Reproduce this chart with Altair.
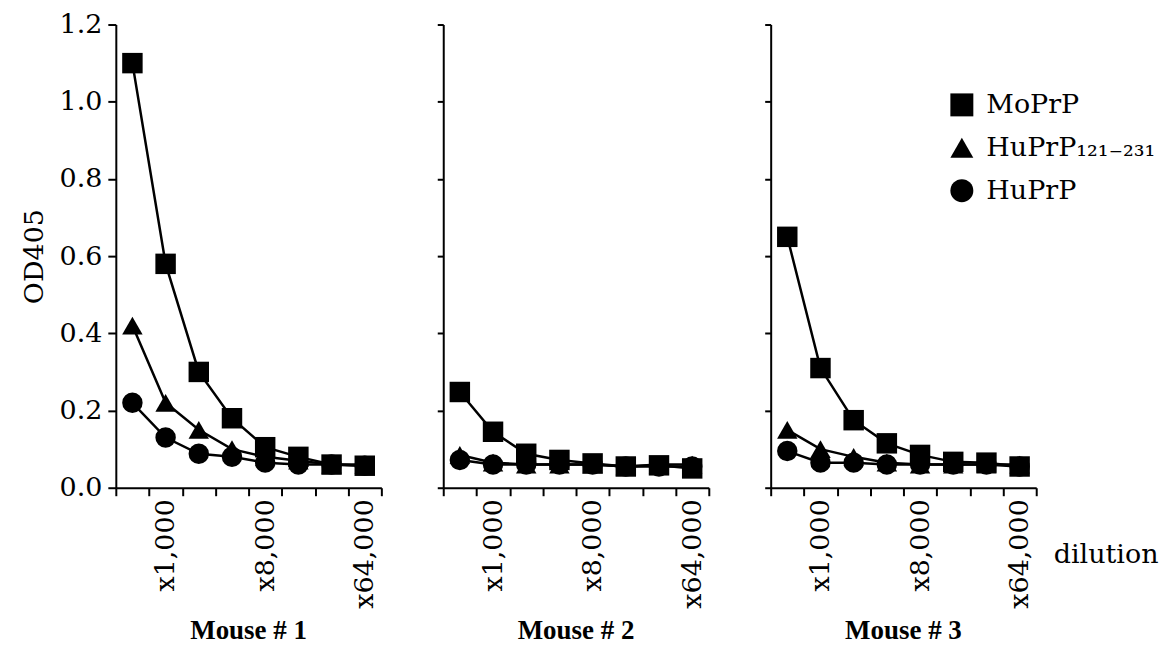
import altair as alt
import pandas as pd

dilutions = ["x500", "x1,000", "x2,000", "x4,000", "x8,000", "x16,000", "x32,000", "x64,000"]
shown_labels = ["x1,000", "x8,000", "x64,000"]
antigens = ["MoPrP", "HuPrP₁₂₁₋₂₃₁", "HuPrP"]
shapes = ["square", "triangle-up", "circle"]
mice = ["Mouse # 1", "Mouse # 2", "Mouse # 3"]

m1_mo = [1.10, 0.58, 0.30, 0.18, 0.105, 0.08, 0.06, 0.057]
m1_hu121 = [0.42, 0.22, 0.15, 0.10, 0.08, 0.07, 0.06, 0.06]
m1_hu = [0.22, 0.13, 0.088, 0.08, 0.065, 0.06, 0.06, 0.057]

m2_mo = [0.248, 0.145, 0.088, 0.072, 0.063, 0.055, 0.058, 0.05]
m2_hu121 = [0.085, 0.065, 0.06, 0.06, 0.06, 0.055, 0.06, 0.06]
m2_hu = [0.072, 0.06, 0.06, 0.06, 0.06, 0.055, 0.055, 0.055]

m3_mo = [0.65, 0.31, 0.175, 0.115, 0.085, 0.067, 0.065, 0.055]
m3_hu121 = [0.15, 0.10, 0.08, 0.065, 0.06, 0.06, 0.06, 0.06]
m3_hu = [0.095, 0.065, 0.065, 0.06, 0.06, 0.06, 0.06, 0.055]

panel_series = [
    [m1_mo, m1_hu121, m1_hu],
    [m2_mo, m2_hu121, m2_hu],
    [m3_mo, m3_hu121, m3_hu],
]

SERIF = "DejaVu Serif"
FS = 27


def make_df(series_list):
    rows = []
    for name, vals in zip(antigens, series_list):
        for d, v in zip(dilutions, vals):
            rows.append({"dilution": d, "od": v, "antigen": name})
    return pd.DataFrame(rows)


label_expr = "indexof(" + str(shown_labels) + ", datum.value) >= 0 ? datum.value : ''"


def panel(i):
    df = make_df(panel_series[i])
    first = i == 0
    last = i == 2

    x_axis_kwargs = dict(
        tickBand="extent", labelAngle=270, labelAlign="right", labelBaseline="middle",
        labelExpr=label_expr, labelFont=SERIF, labelFontSize=27, labelColor="black",
        labelPadding=3, labelOverlap=False, domainColor="black", domainWidth=2,
        tickColor="black", tickWidth=2, tickSize=8, grid=False,
    )
    if last:
        x_axis = alt.Axis(title="dilution", titleX=283, titleY=67, titleAngle=0,
                          titleAlign="left", titleBaseline="middle", titleFont=SERIF,
                          titleFontSize=FS, titleFontWeight="normal", titleColor="black",
                          **x_axis_kwargs)
    else:
        x_axis = alt.Axis(title=None, **x_axis_kwargs)

    y_common = dict(values=[0, 0.2, 0.4, 0.6, 0.8, 1.0, 1.2], domainColor="black",
                    domainWidth=2, tickColor="black", tickWidth=2, grid=False)
    if first:
        y_axis = alt.Axis(format=".1f", title="OD405", titleFont=SERIF, titleFontSize=FS,
                          titleFontWeight="normal", titleColor="black", titlePadding=11,
                          labelFont=SERIF, labelFontSize=FS, labelColor="black",
                          labelPadding=6, tickSize=8, **y_common)
    else:
        y_axis = alt.Axis(labels=False, title=None, tickSize=6, **y_common)

    x = alt.X("dilution:O", sort=dilutions,
              scale=alt.Scale(type="band", paddingInner=0, paddingOuter=0), axis=x_axis)
    y = alt.Y("od:Q", scale=alt.Scale(domain=[0, 1.2], nice=False, zero=True), axis=y_axis)

    if last:
        legend = alt.Legend(title=None, orient="none", legendX=178, legendY=67,
                            labelFont=SERIF, labelFontSize=FS, labelColor="black",
                            labelLimit=400, symbolSize=529, symbolFillColor="black",
                            symbolStrokeColor="black", symbolStrokeWidth=0, rowPadding=15,
                            labelOffset=11)
    else:
        legend = None

    base = alt.Chart(df)
    line = base.mark_line(color="black", strokeWidth=2.5).encode(
        x=x, y=y, detail="antigen:N"
    )
    pts = base.mark_point(filled=True, color="black", opacity=1, size=420).encode(
        x=x, y=y,
        shape=alt.Shape("antigen:N",
                        scale=alt.Scale(domain=antigens, range=shapes),
                        legend=legend),
    )
    return alt.layer(line, pts).properties(
        width=266, height=464,
        title=alt.TitleParams(mice[i], orient="bottom", font="Liberation Serif",
                              fontSize=27, fontWeight="bold", color="black",
                              anchor="middle", offset=10),
    )


chart = alt.hconcat(panel(0), panel(1), panel(2), spacing=47).resolve_legend(
    shape="independent"
).resolve_scale(shape="independent").configure_view(stroke=None).properties(
    padding={"left": 12, "top": 2, "right": 5, "bottom": 5}, background="white"
)

chart.save("out.html", embed_options={"renderer": "svg", "actions": False})
